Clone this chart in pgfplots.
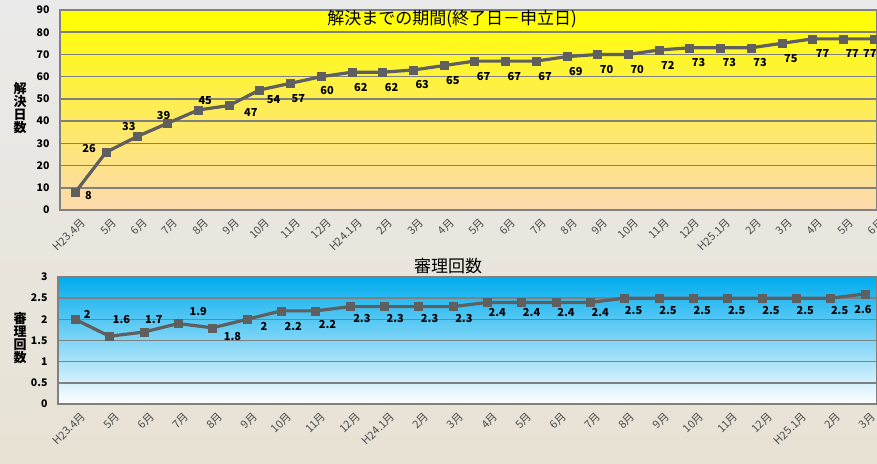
\documentclass[border=0pt]{standalone}
\usepackage{fontspec}
\setmainfont{Noto Sans CJK JP}
\usepackage{pgfplots}
\pgfplotsset{compat=1.18}
\definecolor{gridgray}{RGB}{128,128,128}
\definecolor{linegray}{RGB}{95,95,95}
\definecolor{ytop}{RGB}{255,255,0}
\definecolor{ybot}{RGB}{253,218,176}
\definecolor{btop}{RGB}{0,172,238}
\definecolor{bbot}{RGB}{255,255,255}
\definecolor{bgtop}{RGB}{234,234,234}
\definecolor{bgbot}{RGB}{232,226,212}
\pgfplotsset{
  /pgf/number format/assume math mode=true,
  common/.style={
    scale only axis, anchor=south west, clip=false,
    axis line style={gridgray, line width=1.5pt},
    ymajorgrids, grid style={gridgray, line width=1.5pt},
    major tick length=0pt,
    yticklabel style={font=\fontsize{10.5}{10.5}\selectfont\bfseries, xshift=-7pt},
    xticklabel style={rotate=45, anchor=north east, yshift=-5pt, xshift=2pt, font=\fontsize{11}{11}\selectfont, text=black!70},
    xtick=data,
  },
  myline/.style={
      color=linegray, line width=3.2pt, mark=square*, mark size=4pt,
      mark options={fill=linegray, line width=0.5pt},
      nodes near coords,
      visualization depends on={\thisrow{dx}\as\dx},
      visualization depends on={\thisrow{dy}\as\dy},
      every node near coord/.append style={anchor=center, text=black, xshift=\dx pt, yshift=\dy pt,
        font=\fontsize{11}{11}\selectfont\bfseries},
  },
}
\pgfplotstableread{
x y dx dy
0 8 13 -3
1 26 -17 4
2 33 -8 10
3 39 -4 8
4 45 7 9
5 47 22 -7
6 54 14 -10
7 57 8 -15
8 60 6 -14
9 62 9 -15
10 62 9 -15
11 63 9 -15
12 65 9 -15
13 67 9 -15
14 67 9 -15
15 67 9 -15
16 69 9 -15
17 70 9 -15
18 70 9 -15
19 72 9 -15
20 73 9 -15
21 73 9 -15
22 73 9 -15
23 75 9 -15
24 77 10 -15
25 77 9 -15
26 77 -4 -15
}\topdata
\pgfplotstableread{
x y dx dy
0 2 12 5
1 1.6 12 17
2 1.7 10 12
3 1.9 20 12
4 1.8 20 -9
5 2 17 -7
6 2.2 12 -16
7 2.2 12 -14
8 2.3 12 -12
9 2.3 11 -12
10 2.3 11 -12
11 2.3 11 -12
12 2.4 10 -10
13 2.4 10 -10
14 2.4 10 -10
15 2.4 10 -10
16 2.5 9 -12
17 2.5 9 -12
18 2.5 9 -12
19 2.5 9 -12
20 2.5 9 -12
21 2.5 9 -12
22 2.5 9 -12
23 2.6 -2 -16
}\botdata
\begin{document}
\begin{tikzpicture}
\shade[top color=bgtop, bottom color=bgbot] (0pt,0pt) rectangle (877pt,463pt);
% top chart
\begin{axis}[common,
  at={(60pt,253pt)}, width=817pt, height=200pt,
  xmin=-0.5, xmax=26.1, ymin=0, ymax=90,
  ytick={0,10,...,90},
  axis background/.style={shade, top color=ytop, bottom color=ybot},
  xticklabels={H23.4月,5月,6月,7月,8月,9月,10月,11月,12月,H24.1月,2月,3月,4月,5月,6月,7月,8月,9月,10月,11月,12月,H25.1月,2月,3月,4月,5月,6月},
]
\addplot[myline] table[x=x,y=y] {\topdata};
\end{axis}
\node[font=\fontsize{17}{17}\selectfont] at (452pt,444pt) {解決までの期間(終了日－申立日)};
\node[font=\fontsize{13}{14}\selectfont\bfseries, align=center, inner sep=0pt] at (20pt,355pt) {解\\[-1pt]決\\[-1pt]日\\[-1pt]数};
% bottom chart
\begin{axis}[common,
  at={(58pt,59pt)}, width=819pt, height=127pt,
  xmin=-0.5, xmax=23.35, ymin=0, ymax=3,
  ytick={0,0.5,...,3},
  yticklabel style={/pgf/number format/.cd, fixed, precision=1},
  axis background/.style={shade, top color=btop, bottom color=bbot},
  xticklabels={H23.4月,5月,6月,7月,8月,9月,10月,11月,12月,H24.1月,2月,3月,4月,5月,6月,7月,8月,9月,10月,11月,12月,H25.1月,2月,3月},
]
\addplot[myline] table[x=x,y=y] {\botdata};
\end{axis}
\node[font=\fontsize{17}{17}\selectfont] at (448pt,197pt) {審理回数};
\node[font=\fontsize{13}{14}\selectfont\bfseries, align=center, inner sep=0pt] at (20pt,125pt) {審\\[-1pt]理\\[-1pt]回\\[-1pt]数};
\pgfresetboundingbox
\useasboundingbox (0pt,0pt) rectangle (877pt,463pt);
\end{tikzpicture}
\end{document}
